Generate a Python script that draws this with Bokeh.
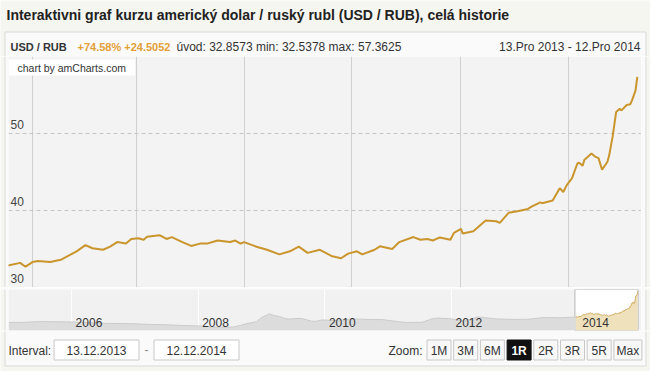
import pandas as pd
from bokeh.plotting import figure
from bokeh.models import Range1d, Label, ColumnDataSource, FixedTicker
from bokeh.layouts import column, row
from bokeh.embed import file_html
from bokeh.resources import INLINE
from bokeh.core.properties import value

# ---------------- data ----------------
main_dates = ["2013-12-18", "2013-12-25", "2013-12-28",
              "2014-01-01", "2014-01-04", "2014-01-11", "2014-01-17", "2014-01-22", "2014-01-26", "2014-01-31",
              "2014-02-04", "2014-02-10", "2014-02-14", "2014-02-18", "2014-02-23", "2014-02-26",
              "2014-03-02", "2014-03-05", "2014-03-07", "2014-03-14", "2014-03-18", "2014-03-21", "2014-03-27",
              "2014-04-01", "2014-04-06", "2014-04-10", "2014-04-16", "2014-04-23", "2014-04-26", "2014-04-29",
              "2014-05-01", "2014-05-08", "2014-05-14", "2014-05-21", "2014-05-27",
              "2014-06-01", "2014-06-06", "2014-06-13", "2014-06-20", "2014-06-25", "2014-06-29",
              "2014-07-04", "2014-07-07", "2014-07-14", "2014-07-17", "2014-07-24", "2014-07-28",
              "2014-08-05", "2014-08-09", "2014-08-13", "2014-08-16", "2014-08-20", "2014-08-26", "2014-08-28",
              "2014-09-01", "2014-09-02", "2014-09-08", "2014-09-15", "2014-09-21", "2014-09-23", "2014-09-28",
              "2014-10-03", "2014-10-09", "2014-10-11", "2014-10-16", "2014-10-17", "2014-10-23", "2014-10-27",
              "2014-10-29", "2014-10-31",
              "2014-11-03", "2014-11-06", "2014-11-07", "2014-11-09", "2014-11-10", "2014-11-11", "2014-11-14",
              "2014-11-16", "2014-11-18", "2014-11-20", "2014-11-23", "2014-11-24", "2014-11-26", "2014-11-28",
              "2014-11-30",
              "2014-12-01", "2014-12-04", "2014-12-06", "2014-12-07", "2014-12-09", "2014-12-10"]
main_values = [32.86, 33.2, 32.7,
               33.3, 33.45, 33.3, 33.6, 34.2, 34.7, 35.5,
               35.1, 34.9, 35.3, 35.9, 35.7, 36.3,
               36.4, 36.2, 36.6, 36.8, 36.3, 36.55, 35.9,
               35.4, 35.7, 35.7, 36.1, 35.9, 36.1, 35.7,
               35.9, 35.3, 34.9, 34.3, 34.7,
               35.3, 34.5, 34.9, 34.05, 33.8, 34.4,
               34.7, 34.3, 34.9, 35.35, 35.0, 35.9,
               36.55, 36.2, 36.3, 36.1, 36.5, 36.2, 37.1,
               37.6, 37.0, 37.3, 38.7, 38.6, 38.4, 39.7,
               39.9, 40.2, 40.5, 41.05, 40.95, 41.3, 42.9,
               42.4, 43.3,
               44.2, 46.1, 46.2, 45.8, 46.6, 46.8, 47.4,
               47.0, 46.8, 45.3, 46.3, 47.1, 49.6, 52.8,
               53.2,
               53.0, 53.7, 53.8, 54.3, 55.6, 57.36]

hist_dates = ["2005-01-03", "2005-04-01", "2005-07-01", "2005-10-01",
              "2006-01-01", "2006-04-01", "2006-07-01", "2006-10-01",
              "2007-01-01", "2007-04-01", "2007-07-01", "2007-10-01",
              "2008-01-01", "2008-04-01", "2008-07-15", "2008-09-01", "2008-10-01", "2008-11-01", "2008-12-01",
              "2009-01-01", "2009-02-15", "2009-03-15", "2009-04-15", "2009-05-15", "2009-06-15",
              "2009-07-15", "2009-08-15", "2009-09-15", "2009-10-15", "2009-11-15", "2009-12-15",
              "2010-03-01", "2010-05-01", "2010-06-15", "2010-09-01", "2010-12-01",
              "2011-03-01", "2011-04-15", "2011-07-15", "2011-09-15", "2011-10-15", "2011-12-15",
              "2012-03-15", "2012-05-01", "2012-06-01", "2012-07-15", "2012-09-15", "2012-12-15",
              "2013-03-15", "2013-06-15", "2013-09-15", "2013-12-13"]
hist_values = [27.8, 27.9, 28.6, 28.5,
               28.2, 27.7, 26.9, 26.8,
               26.5, 25.9, 25.6, 24.9,
               24.5, 23.5, 23.2, 25.0, 26.5, 27.5, 28.5,
               32.5, 36.0, 34.5, 33.5, 31.5, 31.0,
               31.5, 31.7, 30.5, 29.0, 29.0, 30.2,
               29.5, 30.5, 31.2, 30.7, 30.5,
               28.5, 27.8, 27.9, 31.5, 32.0, 31.5,
               29.3, 31.5, 33.0, 32.3, 31.2, 30.7,
               30.8, 32.5, 32.3, 32.86]

y_ticks = [30, 40, 50, 60]
y_tick_labels = ["30", "40", "50"]
month_grid = ["2014-01-01", "2014-03-01", "2014-05-01", "2014-07-01", "2014-09-01", "2014-11-01"]
scroll_years = ["2006-01-01", "2008-01-01", "2010-01-01", "2012-01-01", "2014-01-01"]
scroll_year_labels = ["2006", "2008", "2010", "2012", "2014"]
sel_start = "2013-12-13"
sel_end = "2014-12-12"

title_text = "Interaktivni graf kurzu americký dolar / ruský rubl (USD / RUB), celá historie"
pair_text = "USD / RUB"
change_text = "+74.58% +24.5052"
stats_text = "úvod: 32.8573 min: 32.5378 max: 57.3625"
range_text = "13.Pro 2013 - 12.Pro 2014"
interval_label = "Interval:"
interval_from = "13.12.2013"
interval_to = "12.12.2014"
zoom_label = "Zoom:"
zoom_buttons = ["1M", "3M", "6M", "1R", "2R", "3R", "5R", "Max"]
zoom_selected = "1R"
credit_text = "chart by amCharts.com"

# ---------------- style ----------------
FONT_NAME = "Liberation Sans"
FONT = value(FONT_NAME)
PAGE_BG = "#f6f6f1"
BOX_BG = "#fafafa"
BOX_LINE = "#d9d9d9"
PLOT_BG = "#f3f3f3"
GOLD = "#c9952c"
TXT = "#333333"


def ts(s):
    return pd.Timestamp(s)


def ms(s):
    return pd.Timestamp(s).timestamp() * 1000.0


def deco(width, height, y_top, y_bottom, bg):
    f = figure(width=width, height=height, x_range=Range1d(0, width), y_range=Range1d(y_bottom, y_top),
               x_axis_location=None, y_axis_location=None, output_backend="svg", toolbar_location=None,
               min_border=0, background_fill_color=bg, border_fill_color=bg, outline_line_color=None)
    f.grid.visible = False
    return f


def side(width, height, line_x, page_l, page_r):
    f = deco(width, height, 0, height, BOX_BG)
    f.quad(left=[page_l], right=[page_r], bottom=[0], top=[height], fill_color=PAGE_BG, line_color=None)
    f.segment(x0=[line_x], x1=[line_x], y0=[0], y1=[height], line_color=BOX_LINE, line_width=1)
    return f


def txt(f, x, y, s, size="12px", color=TXT, align="left", style="normal", baseline="middle"):
    f.text(x=[x], y=[y], text=[s], text_font=FONT, text_font_size=size, text_color=color,
           text_align=align, text_font_style=style, text_baseline=baseline)


# ---------------- header ----------------
head = deco(650, 56, 0, 56, PAGE_BG)
head.quad(left=[4.5], right=[645.5], top=[31.5], bottom=[60], fill_color=BOX_BG, line_color=BOX_LINE)
txt(head, 6, 14, title_text, size="14px", color="#222222", style="bold")
txt(head, 10, 46, pair_text, size="11px", style="bold")
txt(head, 77, 46, change_text, size="11px", color="#e2a036", style="bold")
txt(head, 176, 46, stats_text, size="12px")
txt(head, 640, 46, range_text, size="12px", align="right")

# ---------------- main chart ----------------
main_src = ColumnDataSource(dict(date=[ts(d) for d in main_dates], value=main_values))
main = figure(width=633, height=231, x_axis_type="datetime",
              x_range=Range1d(ts("2013-12-18 09:00"), ts("2014-12-12 09:00")),
              y_range=Range1d(30, 60),
              x_axis_location=None, y_axis_location=None,
              output_backend="svg", toolbar_location=None, min_border=0,
              background_fill_color=PLOT_BG, border_fill_color=BOX_BG, outline_line_color=None)
main.xgrid.ticker = FixedTicker(ticks=[ms(d) for d in month_grid])
main.xgrid.grid_line_color = "#d0d0d0"
main.ygrid.ticker = FixedTicker(ticks=y_ticks)
main.ygrid.grid_line_color = "#c6c6c6"
main.ygrid.grid_line_dash = "4 3"
main.line(x="date", y="value", source=main_src, line_color=GOLD, line_width=2)
main.text(x=[main.x_range.start] * len(y_tick_labels), y=y_ticks[:len(y_tick_labels)], text=y_tick_labels,
          x_offset=2, y_offset=-9, text_baseline="middle", text_align="left",
          text_font=FONT, text_font_size="12px", text_color="#444444")
credit = Label(x=0, y=228, x_units="screen", y_units="screen", text=credit_text,
               text_font=FONT_NAME, text_font_size="10.5px", text_color=TXT,
               text_baseline="top", text_align="left",
               background_fill_color="white")
try:
    credit.padding = dict(left=9, right=9, top=2, bottom=2)
except Exception:
    credit.padding = 4
main.add_layout(credit)

main_row = row(side(8, 231, 4.5, 0, 4), main, side(9, 231, 4.5, 5, 9), spacing=0)

# ---------------- scrollbar ----------------
all_dates = [ts(d) for d in hist_dates] + [ts(d) for d in main_dates]
all_values = hist_values + main_values
s_lo, s_hi = 20.1, 59.3
scroll = figure(width=633, height=44, x_axis_type="datetime",
                x_range=Range1d(ts("2005-01-02"), ts("2015-01-01")),
                y_range=Range1d(s_lo, s_hi),
                x_axis_location=None, y_axis_location=None,
                output_backend="svg", toolbar_location=None, min_border=0,
                min_border_top=2, min_border_bottom=1,
                background_fill_color="#f1f1f1", border_fill_color=BOX_BG, outline_line_color=None)
scroll.ygrid.visible = False
scroll.xgrid.ticker = FixedTicker(ticks=[ms(d) for d in scroll_years])
scroll.xgrid.grid_line_color = "#ffffff"
scroll.xgrid.grid_line_alpha = 0.9
scroll.quad(left=[ts(sel_start)], right=[ts(sel_end)], bottom=[s_lo], top=[s_hi],
            fill_color="#ffffff", line_color="#b5b5b5", line_width=1)
scroll.varea(x=all_dates, y1=[s_lo] * len(all_dates), y2=all_values, fill_color="#dcdcdc")
scroll.line(x=all_dates, y=all_values, line_color="#cbcbcb", line_width=1)
sel_dates = [ts(d) for d in main_dates]
scroll.varea(x=sel_dates, y1=[s_lo] * len(sel_dates), y2=main_values, fill_color="#f0e1bd")
scroll.line(x=sel_dates, y=main_values, line_color="#d8b565", line_width=1)
scroll.text(x=[ts(d) for d in scroll_years], y=[s_lo] * len(scroll_years), text=scroll_year_labels,
            x_offset=4, y_offset=-8, text_baseline="middle", text_align="left",
            text_font=FONT, text_font_size="12px", text_color=TXT)

scroll_row = row(side(8, 44, 4.5, 0, 4), scroll, side(9, 44, 4.5, 5, 9), spacing=0)

# ---------------- footer ----------------
foot = deco(650, 40, 331, 371, PAGE_BG)
foot.quad(left=[4.5], right=[645.5], top=[320], bottom=[365.5], fill_color=BOX_BG, line_color=BOX_LINE)
txt(foot, 8, 350, interval_label)
foot.quad(left=[53.5, 153.5], right=[138.5, 238.5], top=[339.5, 339.5], bottom=[359.5, 359.5],
          fill_color="#ffffff", line_color="#c8c8c8")
txt(foot, 96, 350, interval_from, align="center")
txt(foot, 146, 349, "-", color="#888888", align="center")
txt(foot, 196, 350, interval_to, align="center")
txt(foot, 388, 350, zoom_label)
bx = 426.5
for lab in zoom_buttons:
    wdt = 28 if lab == "Max" else 24
    sel = lab == zoom_selected
    foot.quad(left=[bx], right=[bx + wdt], top=[339.5], bottom=[359.5],
              fill_color="#111111" if sel else "#f8f8f8", line_color="#111111" if sel else "#c8c8c8")
    txt(foot, bx + wdt / 2, 350, lab, color="#ffffff" if sel else TXT, align="center",
        style="bold" if sel else "normal")
    bx += wdt + 2.7

layout = column(head, main_row, scroll_row, foot, spacing=0)
open("out.html", "w").write(file_html(layout, INLINE))
